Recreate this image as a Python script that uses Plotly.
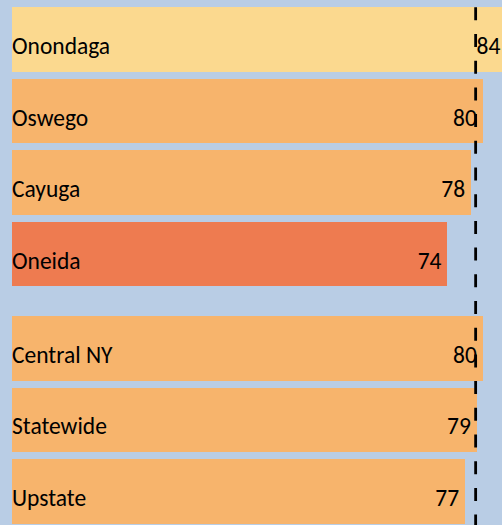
import plotly.graph_objects as go

# ---- data ----
categories = ["Onondaga", "Oswego", "Cayuga", "Oneida", "Central NY", "Statewide", "Upstate"]
values = [84, 80, 78, 74, 80, 79, 77]
bar_colors = ["#FBD98F", "#F7B46C", "#F7B46C", "#EE7B50", "#F7B46C", "#F7B46C", "#F7B46C"]
reference_value = 78.8
value_labels = [str(v) for v in values]

# ---- layout helpers ----
n_counties = 4
group_gap = 0.314
positions = [i + (group_gap if i >= n_counties else 0) for i in range(len(categories))]
text_shift = 0.12  # labels sit slightly below bar centre
value_pad = 1.0    # gap between value label and bar end (axis units)
text_y = [p + text_shift for p in positions]
value_x = [v - value_pad for v in values]

BG = "#B9CDE5"
FONT = dict(family="Carlito, Lato, 'Open Sans', sans-serif", size=23.5, color="black")

fig = go.Figure()
fig.add_trace(go.Bar(
    x=values, y=positions, orientation="h",
    marker=dict(color=bar_colors, line=dict(width=0)),
    width=0.9, hoverinfo="skip", showlegend=False,
))
fig.add_trace(go.Scatter(
    x=[0] * len(categories), y=text_y, mode="text", text=categories,
    textposition="middle right", textfont=FONT, cliponaxis=False,
    hoverinfo="skip", showlegend=False,
))
fig.add_trace(go.Scatter(
    x=value_x, y=text_y, mode="text", text=value_labels,
    textposition="middle left", textfont=FONT, cliponaxis=False,
    hoverinfo="skip", showlegend=False,
))

fig.add_shape(
    type="line", xref="x", yref="paper",
    x0=reference_value, x1=reference_value, y0=1 - 7.3 / 525, y1=0,
    line=dict(color="black", width=2.8, dash="13px,13.7px"), layer="above",
)

fig.update_layout(
    width=502, height=525,
    margin=dict(l=12, r=0, t=0, b=0),
    paper_bgcolor=BG, plot_bgcolor=BG,
    xaxis=dict(range=[0, 83.28], visible=False, showgrid=False, zeroline=False),
    yaxis=dict(range=[6.782, -0.552], visible=False, showgrid=False, zeroline=False),
    bargap=0, hovermode=False,
)

fig.write_html(
    "out.html",
    config={"displayModeBar": False, "staticPlot": True},
    post_script="document.body.style.margin='0';document.body.style.overflow='hidden';",
)
